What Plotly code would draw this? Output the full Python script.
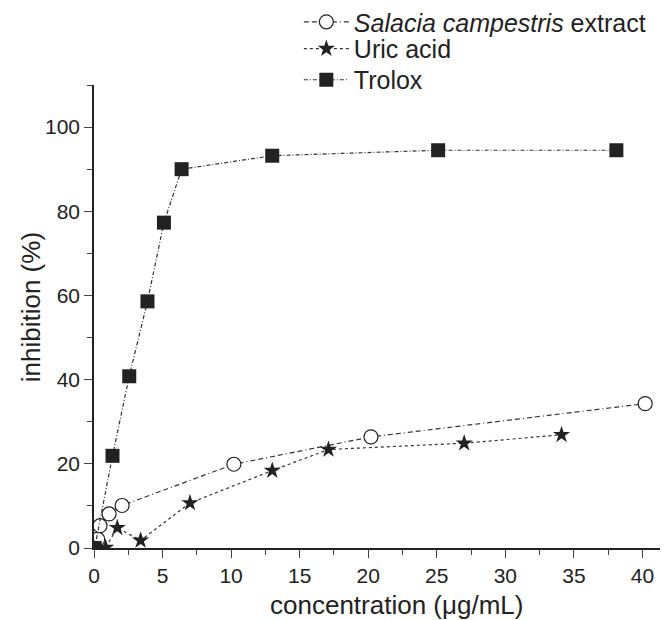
import plotly.graph_objects as go

salacia_x = [0.27, 0.44, 1.1, 2.05, 10.2, 20.2, 40.2]
salacia_y = [2.1, 5.3, 8.1, 10.1, 19.9, 26.4, 34.3]

uric_x = [0.0, 0.85, 1.7, 3.4, 7.0, 13.0, 17.1, 27.0, 34.1]
uric_y = [0.0, 0.1, 4.8, 1.8, 10.7, 18.4, 23.4, 24.9, 26.9]

trolox_x = [0.05, 1.35, 2.57, 3.9, 5.1, 6.39, 13.0, 25.1, 38.1]
trolox_y = [0.0, 21.9, 40.8, 58.6, 77.3, 90.0, 93.2, 94.5, 94.5]

x_ticks = [0, 5, 10, 15, 20, 25, 30, 35, 40]
y_ticks = [0, 20, 40, 60, 80, 100]

FONT = "Liberation Sans, Arial, sans-serif"
INK = "#222222"
fig = go.Figure()
fig.add_trace(go.Scatter(
    x=salacia_x, y=salacia_y, mode="lines+markers",
    name="<i>Salacia campestris</i> extract", legend="legend",
    line=dict(color="#333333", width=1.2, dash="5px,3px,5px,3px,1px,3px"),
    marker=dict(symbol="circle", size=14, color="white", line=dict(width=1.2, color=INK))))
fig.add_trace(go.Scatter(
    x=uric_x, y=uric_y, mode="lines+markers", name="Uric acid", legend="legend2",
    line=dict(color="#333333", width=1.2, dash="dot"),
    marker=dict(symbol="star", size=13, color=INK)))
fig.add_trace(go.Scatter(
    x=trolox_x, y=trolox_y, mode="lines+markers", name="Trolox", legend="legend3",
    line=dict(color="#333333", width=1.2, dash="4px,2px,1px,2px"),
    marker=dict(symbol="square", size=14, color=INK)))

axis_common = dict(showgrid=False, zeroline=False, showline=True, linecolor=INK,
                   linewidth=1.5, ticks="outside", ticklen=8, tickwidth=1.3, tickcolor="#444444",
                   tickfont=dict(size=21, color=INK, family=FONT), automargin=False,
                   minor=dict(ticks="outside", ticklen=5, tickwidth=1.2, tickcolor="#444444"))

fig.update_xaxes(range=[0, 41.5], tickvals=x_ticks, minor_dtick=2.5, **axis_common)
fig.update_yaxes(range=[0, 110], tickvals=y_ticks, minor_dtick=10, **axis_common)

fig.add_annotation(text="concentration (μg/mL)", xref="paper", yref="paper",
                   x=0.5325, y=-0.123, xanchor="center", yanchor="middle", showarrow=False,
                   font=dict(size=26, family=FONT, color=INK))
fig.add_annotation(text="inhibition (%)", xref="paper", yref="paper", textangle=-90,
                   x=-0.1107, y=0.52, xanchor="center", yanchor="middle", showarrow=False,
                   font=dict(size=26, family=FONT, color=INK))

leg = dict(x=0.36, xanchor="left", yanchor="middle",
           font=dict(size=25, family=FONT, color=INK),
           bgcolor="rgba(0,0,0,0)", itemwidth=45)
fig.update_layout(
    width=660, height=612,
    margin=dict(l=86, r=5, t=77, b=72, autoexpand=False),
    plot_bgcolor="white", paper_bgcolor="white",
    font=dict(family=FONT, color=INK),
    showlegend=True,
    legend=dict(y=1.136, **leg),
    legend2=dict(y=1.0779, **leg),
    legend3=dict(y=1.0108, **leg),
)

fig.write_html("out.html")
